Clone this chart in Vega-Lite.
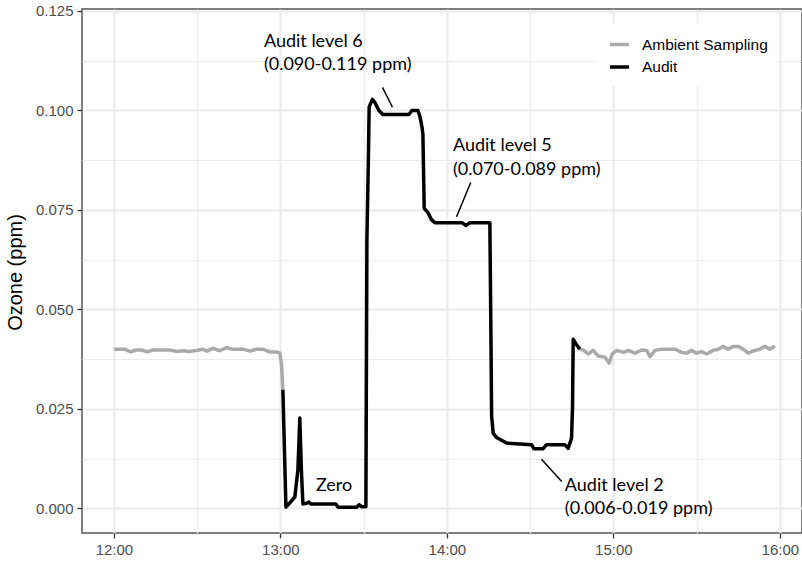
{
  "$schema": "https://vega.github.io/schema/vega-lite/v6.json",
  "width": 720,
  "height": 524,
  "autosize": {"type": "none"},
  "padding": {"left": 82, "top": 9, "right": 0, "bottom": 30},
  "background": "white",
  "config": {
    "view": {"stroke": "#555555", "strokeWidth": 1.5},
    "axis": {
      "labelFont": "Liberation Sans",
      "labelFontSize": 15,
      "labelColor": "#4D4D4D",
      "tickColor": "#333333",
      "tickSize": 5,
      "tickWidth": 1.3,
      "domain": false,
      "gridColor": "#EBEBEB",
      "titleFont": "Liberation Sans",
      "titleFontSize": 20,
      "titleFontWeight": "normal",
      "titleColor": "#000000",
      "labelPadding": 4
    }
  },
  "datasets": {
    "ozone": [
      {"time": "2024-01-01T12:00:00", "ozone": 0.0400, "series": "Ambient Sampling", "seg": "A1"},
      {"time": "2024-01-01T12:02:00", "ozone": 0.0400, "series": "Ambient Sampling", "seg": "A1"},
      {"time": "2024-01-01T12:04:00", "ozone": 0.0400, "series": "Ambient Sampling", "seg": "A1"},
      {"time": "2024-01-01T12:06:00", "ozone": 0.0393, "series": "Ambient Sampling", "seg": "A1"},
      {"time": "2024-01-01T12:08:00", "ozone": 0.0398, "series": "Ambient Sampling", "seg": "A1"},
      {"time": "2024-01-01T12:10:00", "ozone": 0.0398, "series": "Ambient Sampling", "seg": "A1"},
      {"time": "2024-01-01T12:12:00", "ozone": 0.0393, "series": "Ambient Sampling", "seg": "A1"},
      {"time": "2024-01-01T12:14:00", "ozone": 0.0398, "series": "Ambient Sampling", "seg": "A1"},
      {"time": "2024-01-01T12:20:00", "ozone": 0.0398, "series": "Ambient Sampling", "seg": "A1"},
      {"time": "2024-01-01T12:23:00", "ozone": 0.0394, "series": "Ambient Sampling", "seg": "A1"},
      {"time": "2024-01-01T12:25:00", "ozone": 0.0396, "series": "Ambient Sampling", "seg": "A1"},
      {"time": "2024-01-01T12:27:00", "ozone": 0.0394, "series": "Ambient Sampling", "seg": "A1"},
      {"time": "2024-01-01T12:30:00", "ozone": 0.0397, "series": "Ambient Sampling", "seg": "A1"},
      {"time": "2024-01-01T12:32:00", "ozone": 0.0400, "series": "Ambient Sampling", "seg": "A1"},
      {"time": "2024-01-01T12:33:30", "ozone": 0.0395, "series": "Ambient Sampling", "seg": "A1"},
      {"time": "2024-01-01T12:35:40", "ozone": 0.0402, "series": "Ambient Sampling", "seg": "A1"},
      {"time": "2024-01-01T12:38:10", "ozone": 0.0396, "series": "Ambient Sampling", "seg": "A1"},
      {"time": "2024-01-01T12:40:40", "ozone": 0.0404, "series": "Ambient Sampling", "seg": "A1"},
      {"time": "2024-01-01T12:42:30", "ozone": 0.0400, "series": "Ambient Sampling", "seg": "A1"},
      {"time": "2024-01-01T12:46:30", "ozone": 0.0400, "series": "Ambient Sampling", "seg": "A1"},
      {"time": "2024-01-01T12:49:00", "ozone": 0.0395, "series": "Ambient Sampling", "seg": "A1"},
      {"time": "2024-01-01T12:51:30", "ozone": 0.0400, "series": "Ambient Sampling", "seg": "A1"},
      {"time": "2024-01-01T12:53:40", "ozone": 0.0400, "series": "Ambient Sampling", "seg": "A1"},
      {"time": "2024-01-01T12:56:10", "ozone": 0.0393, "series": "Ambient Sampling", "seg": "A1"},
      {"time": "2024-01-01T12:58:40", "ozone": 0.0393, "series": "Ambient Sampling", "seg": "A1"},
      {"time": "2024-01-01T12:59:50", "ozone": 0.0390, "series": "Ambient Sampling", "seg": "A1"},
      {"time": "2024-01-01T13:00:25", "ozone": 0.0360, "series": "Ambient Sampling", "seg": "A1"},
      {"time": "2024-01-01T13:00:54", "ozone": 0.0298, "series": "Ambient Sampling", "seg": "A1"},
      {"time": "2024-01-01T14:47:56", "ozone": 0.0400, "series": "Ambient Sampling", "seg": "A2"},
      {"time": "2024-01-01T14:49:08", "ozone": 0.0398, "series": "Ambient Sampling", "seg": "A2"},
      {"time": "2024-01-01T14:50:56", "ozone": 0.0388, "series": "Ambient Sampling", "seg": "A2"},
      {"time": "2024-01-01T14:52:44", "ozone": 0.0397, "series": "Ambient Sampling", "seg": "A2"},
      {"time": "2024-01-01T14:54:32", "ozone": 0.0383, "series": "Ambient Sampling", "seg": "A2"},
      {"time": "2024-01-01T14:57:00", "ozone": 0.0380, "series": "Ambient Sampling", "seg": "A2"},
      {"time": "2024-01-01T14:58:30", "ozone": 0.0365, "series": "Ambient Sampling", "seg": "A2"},
      {"time": "2024-01-01T14:59:36", "ozone": 0.0388, "series": "Ambient Sampling", "seg": "A2"},
      {"time": "2024-01-01T15:01:12", "ozone": 0.0397, "series": "Ambient Sampling", "seg": "A2"},
      {"time": "2024-01-01T15:03:36", "ozone": 0.0392, "series": "Ambient Sampling", "seg": "A2"},
      {"time": "2024-01-01T15:05:24", "ozone": 0.0397, "series": "Ambient Sampling", "seg": "A2"},
      {"time": "2024-01-01T15:07:48", "ozone": 0.0390, "series": "Ambient Sampling", "seg": "A2"},
      {"time": "2024-01-01T15:10:12", "ozone": 0.0398, "series": "Ambient Sampling", "seg": "A2"},
      {"time": "2024-01-01T15:12:00", "ozone": 0.0397, "series": "Ambient Sampling", "seg": "A2"},
      {"time": "2024-01-01T15:13:12", "ozone": 0.0381, "series": "Ambient Sampling", "seg": "A2"},
      {"time": "2024-01-01T15:15:00", "ozone": 0.0397, "series": "Ambient Sampling", "seg": "A2"},
      {"time": "2024-01-01T15:17:24", "ozone": 0.0400, "series": "Ambient Sampling", "seg": "A2"},
      {"time": "2024-01-01T15:22:12", "ozone": 0.0400, "series": "Ambient Sampling", "seg": "A2"},
      {"time": "2024-01-01T15:24:36", "ozone": 0.0392, "series": "Ambient Sampling", "seg": "A2"},
      {"time": "2024-01-01T15:26:24", "ozone": 0.0390, "series": "Ambient Sampling", "seg": "A2"},
      {"time": "2024-01-01T15:28:12", "ozone": 0.0397, "series": "Ambient Sampling", "seg": "A2"},
      {"time": "2024-01-01T15:30:00", "ozone": 0.0390, "series": "Ambient Sampling", "seg": "A2"},
      {"time": "2024-01-01T15:31:48", "ozone": 0.0394, "series": "Ambient Sampling", "seg": "A2"},
      {"time": "2024-01-01T15:33:36", "ozone": 0.0388, "series": "Ambient Sampling", "seg": "A2"},
      {"time": "2024-01-01T15:36:00", "ozone": 0.0397, "series": "Ambient Sampling", "seg": "A2"},
      {"time": "2024-01-01T15:37:48", "ozone": 0.0400, "series": "Ambient Sampling", "seg": "A2"},
      {"time": "2024-01-01T15:39:36", "ozone": 0.0407, "series": "Ambient Sampling", "seg": "A2"},
      {"time": "2024-01-01T15:41:24", "ozone": 0.0400, "series": "Ambient Sampling", "seg": "A2"},
      {"time": "2024-01-01T15:43:12", "ozone": 0.0407, "series": "Ambient Sampling", "seg": "A2"},
      {"time": "2024-01-01T15:45:00", "ozone": 0.0407, "series": "Ambient Sampling", "seg": "A2"},
      {"time": "2024-01-01T15:46:48", "ozone": 0.0400, "series": "Ambient Sampling", "seg": "A2"},
      {"time": "2024-01-01T15:48:36", "ozone": 0.0390, "series": "Ambient Sampling", "seg": "A2"},
      {"time": "2024-01-01T15:51:00", "ozone": 0.0397, "series": "Ambient Sampling", "seg": "A2"},
      {"time": "2024-01-01T15:52:48", "ozone": 0.0400, "series": "Ambient Sampling", "seg": "A2"},
      {"time": "2024-01-01T15:54:36", "ozone": 0.0407, "series": "Ambient Sampling", "seg": "A2"},
      {"time": "2024-01-01T15:56:24", "ozone": 0.0400, "series": "Ambient Sampling", "seg": "A2"},
      {"time": "2024-01-01T15:58:12", "ozone": 0.0408, "series": "Ambient Sampling", "seg": "A2"},
      {"time": "2024-01-01T13:00:54", "ozone": 0.0298, "series": "Audit", "seg": "B"},
      {"time": "2024-01-01T13:02:00", "ozone": 0.0003, "series": "Audit", "seg": "B"},
      {"time": "2024-01-01T13:03:26", "ozone": 0.0014, "series": "Audit", "seg": "B"},
      {"time": "2024-01-01T13:05:14", "ozone": 0.0029, "series": "Audit", "seg": "B"},
      {"time": "2024-01-01T13:06:19", "ozone": 0.0097, "series": "Audit", "seg": "B"},
      {"time": "2024-01-01T13:07:00", "ozone": 0.0227, "series": "Audit", "seg": "B"},
      {"time": "2024-01-01T13:07:34", "ozone": 0.0097, "series": "Audit", "seg": "B"},
      {"time": "2024-01-01T13:08:07", "ozone": 0.0011, "series": "Audit", "seg": "B"},
      {"time": "2024-01-01T13:09:33", "ozone": 0.0013, "series": "Audit", "seg": "B"},
      {"time": "2024-01-01T13:10:17", "ozone": 0.0016, "series": "Audit", "seg": "B"},
      {"time": "2024-01-01T13:11:00", "ozone": 0.0011, "series": "Audit", "seg": "B"},
      {"time": "2024-01-01T13:20:00", "ozone": 0.0011, "series": "Audit", "seg": "B"},
      {"time": "2024-01-01T13:20:44", "ozone": 0.0003, "series": "Audit", "seg": "B"},
      {"time": "2024-01-01T13:27:35", "ozone": 0.0003, "series": "Audit", "seg": "B"},
      {"time": "2024-01-01T13:28:18", "ozone": 0.0009, "series": "Audit", "seg": "B"},
      {"time": "2024-01-01T13:29:23", "ozone": 0.0004, "series": "Audit", "seg": "B"},
      {"time": "2024-01-01T13:30:49", "ozone": 0.0004, "series": "Audit", "seg": "B"},
      {"time": "2024-01-01T13:31:11", "ozone": 0.0675, "series": "Audit", "seg": "B"},
      {"time": "2024-01-01T13:31:43", "ozone": 0.0876, "series": "Audit", "seg": "B"},
      {"time": "2024-01-01T13:32:00", "ozone": 0.1009, "series": "Audit", "seg": "B"},
      {"time": "2024-01-01T13:33:10", "ozone": 0.1028, "series": "Audit", "seg": "B"},
      {"time": "2024-01-01T13:34:04", "ozone": 0.1020, "series": "Audit", "seg": "B"},
      {"time": "2024-01-01T13:35:30", "ozone": 0.1000, "series": "Audit", "seg": "B"},
      {"time": "2024-01-01T13:36:57", "ozone": 0.0990, "series": "Audit", "seg": "B"},
      {"time": "2024-01-01T13:46:19", "ozone": 0.0990, "series": "Audit", "seg": "B"},
      {"time": "2024-01-01T13:47:24", "ozone": 0.1000, "series": "Audit", "seg": "B"},
      {"time": "2024-01-01T13:49:34", "ozone": 0.1000, "series": "Audit", "seg": "B"},
      {"time": "2024-01-01T13:50:17", "ozone": 0.0985, "series": "Audit", "seg": "B"},
      {"time": "2024-01-01T13:51:00", "ozone": 0.0960, "series": "Audit", "seg": "B"},
      {"time": "2024-01-01T13:51:22", "ozone": 0.0940, "series": "Audit", "seg": "B"},
      {"time": "2024-01-01T13:51:50", "ozone": 0.0754, "series": "Audit", "seg": "B"},
      {"time": "2024-01-01T13:53:10", "ozone": 0.0743, "series": "Audit", "seg": "B"},
      {"time": "2024-01-01T13:54:30", "ozone": 0.0725, "series": "Audit", "seg": "B"},
      {"time": "2024-01-01T13:55:41", "ozone": 0.0718, "series": "Audit", "seg": "B"},
      {"time": "2024-01-01T14:05:25", "ozone": 0.0718, "series": "Audit", "seg": "B"},
      {"time": "2024-01-01T14:06:52", "ozone": 0.0711, "series": "Audit", "seg": "B"},
      {"time": "2024-01-01T14:08:18", "ozone": 0.0718, "series": "Audit", "seg": "B"},
      {"time": "2024-01-01T14:15:30", "ozone": 0.0718, "series": "Audit", "seg": "B"},
      {"time": "2024-01-01T14:15:52", "ozone": 0.0450, "series": "Audit", "seg": "B"},
      {"time": "2024-01-01T14:16:08", "ozone": 0.0231, "series": "Audit", "seg": "B"},
      {"time": "2024-01-01T14:16:42", "ozone": 0.0189, "series": "Audit", "seg": "B"},
      {"time": "2024-01-01T14:17:55", "ozone": 0.0178, "series": "Audit", "seg": "B"},
      {"time": "2024-01-01T14:21:32", "ozone": 0.0164, "series": "Audit", "seg": "B"},
      {"time": "2024-01-01T14:30:32", "ozone": 0.0160, "series": "Audit", "seg": "B"},
      {"time": "2024-01-01T14:31:22", "ozone": 0.0150, "series": "Audit", "seg": "B"},
      {"time": "2024-01-01T14:34:43", "ozone": 0.0150, "series": "Audit", "seg": "B"},
      {"time": "2024-01-01T14:35:56", "ozone": 0.0160, "series": "Audit", "seg": "B"},
      {"time": "2024-01-01T14:42:32", "ozone": 0.0160, "series": "Audit", "seg": "B"},
      {"time": "2024-01-01T14:43:44", "ozone": 0.0151, "series": "Audit", "seg": "B"},
      {"time": "2024-01-01T14:44:56", "ozone": 0.0176, "series": "Audit", "seg": "B"},
      {"time": "2024-01-01T14:45:18", "ozone": 0.0256, "series": "Audit", "seg": "B"},
      {"time": "2024-01-01T14:45:32", "ozone": 0.0425, "series": "Audit", "seg": "B"},
      {"time": "2024-01-01T14:46:46", "ozone": 0.0411, "series": "Audit", "seg": "B"},
      {"time": "2024-01-01T14:47:56", "ozone": 0.0400, "series": "Audit", "seg": "B"}
    ],
    "labels": [
      {"time": "2024-01-01T12:54:04", "ozone": 0.1172, "label": "Audit level 6"},
      {"time": "2024-01-01T12:54:04", "ozone": 0.1114, "label": "(0.090-0.119 ppm)"},
      {"time": "2024-01-01T14:02:12", "ozone": 0.0911, "label": "Audit level 5"},
      {"time": "2024-01-01T14:02:12", "ozone": 0.0851, "label": "(0.070-0.089 ppm)"},
      {"time": "2024-01-01T13:12:48", "ozone": 0.0057, "label": "Zero"},
      {"time": "2024-01-01T14:42:32", "ozone": 0.0057, "label": "Audit level 2"},
      {"time": "2024-01-01T14:42:32", "ozone": -0.0001, "label": "(0.006-0.019 ppm)"}
    ],
    "leaders": [
      {"time": "2024-01-01T13:36:48", "ozone": 0.1058, "time2": "2024-01-01T13:40:24", "ozone2": 0.1008},
      {"time": "2024-01-01T14:08:36", "ozone": 0.0819, "time2": "2024-01-01T14:03:30", "ozone2": 0.0733},
      {"time": "2024-01-01T14:34:06", "ozone": 0.01236, "time2": "2024-01-01T14:41:24", "ozone2": 0.00673}
    ]
  },
  "layer": [
    {
      "data": {"name": "ozone"},
      "mark": {"type": "line", "strokeWidth": 3.5, "strokeJoin": "round"},
      "encoding": {
        "x": {
          "field": "time",
          "type": "temporal",
          "scale": {
            "domain": [
              {"year": 2024, "month": 1, "date": 1, "hours": 11, "minutes": 48, "seconds": 30},
              {"year": 2024, "month": 1, "date": 1, "hours": 16, "minutes": 8, "seconds": 0}
            ],
            "nice": false
          },
          "axis": {
            "title": null,
            "values": [
              {"year": 2024, "month": 1, "date": 1, "hours": 12, "minutes": 0},
              {"year": 2024, "month": 1, "date": 1, "hours": 12, "minutes": 30},
              {"year": 2024, "month": 1, "date": 1, "hours": 13, "minutes": 0},
              {"year": 2024, "month": 1, "date": 1, "hours": 13, "minutes": 30},
              {"year": 2024, "month": 1, "date": 1, "hours": 14, "minutes": 0},
              {"year": 2024, "month": 1, "date": 1, "hours": 14, "minutes": 30},
              {"year": 2024, "month": 1, "date": 1, "hours": 15, "minutes": 0},
              {"year": 2024, "month": 1, "date": 1, "hours": 15, "minutes": 30},
              {"year": 2024, "month": 1, "date": 1, "hours": 16, "minutes": 0}
            ],
            "labelExpr": "minutes(datum.value) == 0 ? timeFormat(datum.value, '%H:%M') : ''",
            "tickOpacity": {"condition": {"test": "minutes(datum.value) == 0", "value": 1}, "value": 0},
            "gridWidth": {"condition": {"test": "minutes(datum.value) == 0", "value": 2}, "value": 1.2}
          }
        },
        "y": {
          "field": "ozone",
          "type": "quantitative",
          "scale": {"domain": [-0.0062, 0.1255], "nice": false, "zero": false},
          "axis": {
            "title": "Ozone (ppm)",
            "values": [0, 0.0125, 0.025, 0.0375, 0.05, 0.0625, 0.075, 0.0875, 0.1, 0.1125, 0.125],
            "labelExpr": "abs(datum.value*40 - round(datum.value*40)) < 0.001 ? format(datum.value, '.3f') : ''",
            "tickOpacity": {"condition": {"test": "abs(datum.value*40 - round(datum.value*40)) < 0.001", "value": 1}, "value": 0},
            "gridWidth": {"condition": {"test": "abs(datum.value*40 - round(datum.value*40)) < 0.001", "value": 2}, "value": 1.2},
            "titleAngle": -90,
            "titleX": -67,
            "titleY": 263,
            "titleAlign": "center",
            "titleBaseline": "middle"
          }
        },
        "color": {
          "field": "series",
          "type": "nominal",
          "scale": {"domain": ["Ambient Sampling", "Audit"], "range": ["#AAAAAA", "#000000"]},
          "legend": {
            "title": null,
            "orient": "none",
            "legendX": 516,
            "legendY": 14,
            "padding": 10,
            "fillColor": "white",
            "symbolType": "stroke",
            "symbolSize": 361,
            "symbolStrokeWidth": 3.5,
            "labelFont": "Liberation Sans",
            "labelFontSize": 15.5,
            "labelColor": "#000000",
            "labelOffset": 11,
            "rowPadding": 2.5
          }
        },
        "detail": {"field": "seg", "type": "nominal"}
      }
    },
    {
      "data": {"name": "leaders"},
      "mark": {"type": "rule", "color": "#000000", "strokeWidth": 1.5},
      "encoding": {
        "x": {"field": "time", "type": "temporal"},
        "y": {"field": "ozone", "type": "quantitative"},
        "x2": {"field": "time2"},
        "y2": {"field": "ozone2"}
      }
    },
    {
      "data": {"name": "labels"},
      "mark": {"type": "text", "align": "left", "baseline": "middle", "font": "Lato", "fontSize": 18, "color": "#000000"},
      "encoding": {
        "x": {"field": "time", "type": "temporal"},
        "y": {"field": "ozone", "type": "quantitative"},
        "text": {"field": "label"}
      }
    }
  ]
}
